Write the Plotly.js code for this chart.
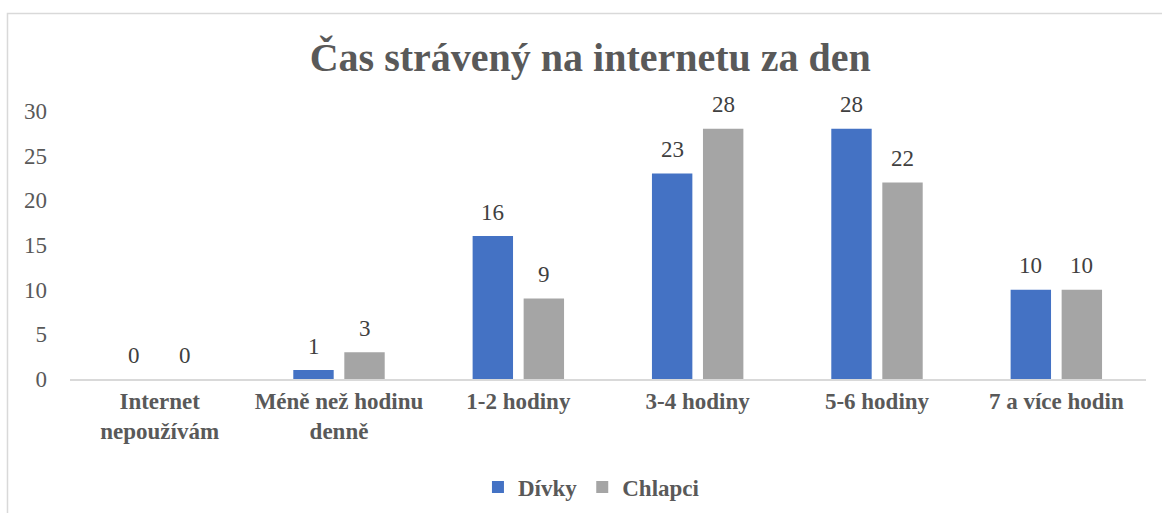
<!DOCTYPE html>
<html>
<head>
<meta charset="utf-8">
<script src="https://cdn.plot.ly/plotly-3.0.1.min.js"></script>
<style>html,body{margin:0;padding:0;background:#fff;}#chart{width:1162px;height:513px;}</style>
</head>
<body>
<div id="chart"></div>
<script>
const categories = ["Internet<br>nepoužívám", "Méně než hodinu<br>denně", "1-2 hodiny", "3-4 hodiny", "5-6 hodiny", "7 a více hodin"];
const divky = [0, 1, 16, 23, 28, 10];
const chlapci = [0, 3, 9, 28, 22, 10];
const seriesNames = ["Dívky", "Chlapci"];
const seriesColors = ['#4472C4', '#A5A5A5'];
const titleText = "Čas strávený na internetu za den";
const yTicks = [0, 5, 10, 15, 20, 25, 30];

const font = "Liberation Serif";
const series = [divky, chlapci];

const data = series.map((vals, i) => ({
  type: 'bar', name: '<b>' + seriesNames[i] + '</b>', x: categories, y: vals,
  marker: {color: seriesColors[i]}, hoverinfo: 'x+y'
}));

// value labels, positioned through the axes (category + value), offset per group slot
const slotPx = 51;
const annotations = [];
series.forEach((vals, i) => {
  vals.forEach((v, j) => {
    annotations.push({
      x: categories[j], y: v, xref: 'x', yref: 'y',
      text: String(v), showarrow: false,
      xshift: (i === 0 ? -1 : 1) * slotPx / 2, yshift: 24,
      xanchor: 'center', yanchor: 'middle',
      font: {family: font, size: 23, color: '#404040'}
    });
  });
});

const layout = {
  width: 1162, height: 513,
  margin: {l: 70, r: 16, t: 111, b: 134},
  paper_bgcolor: '#fff', plot_bgcolor: '#fff',
  font: {family: font, color: '#595959', size: 23},
  title: {text: '<b>' + titleText + '</b>', font: {family: font, size: 40, color: '#595959'},
          x: 0.508, xanchor: 'center', xref: 'container', y: 0.889, yanchor: 'middle', yref: 'container'},
  barmode: 'group', bargap: 0.431, bargroupgap: 0.208,
  xaxis: {
    type: 'category', showgrid: false, showline: true, linecolor: '#D9D9D9', linewidth: 2,
    ticks: '', tickfont: {family: font, size: 23, color: '#595959'},
    tickprefix: '<b>', ticksuffix: '</b>', zeroline: false, fixedrange: true, automargin: false
  },
  yaxis: {
    range: [0, 30], tickvals: yTicks, ticktext: yTicks.map(String),
    showgrid: false, zeroline: false, showline: false, ticks: '',
    tickfont: {family: font, size: 23, color: '#595959'}, ticklabelstandoff: 22,
    fixedrange: true, automargin: false
  },
  showlegend: true,
  legend: {
    orientation: 'h', x: 0.509, xanchor: 'center', xref: 'container',
    y: 1 - 487 / 513, yanchor: 'middle', yref: 'container',
    font: {family: font, size: 23, color: '#595959'},
    itemwidth: 30, traceorder: 'normal'
  },
  annotations: annotations,
  shapes: [{
    type: 'rect', xref: 'paper', yref: 'paper',
    x0: -0.0581, x1: 1.05, y0: -0.6, y1: 1.3638,
    line: {color: '#D9D9D9', width: 1.5}, layer: 'below'
  }]
};

Plotly.newPlot('chart', data, layout, {displayModeBar: false, staticPlot: true});
</script>
</body>
</html>
